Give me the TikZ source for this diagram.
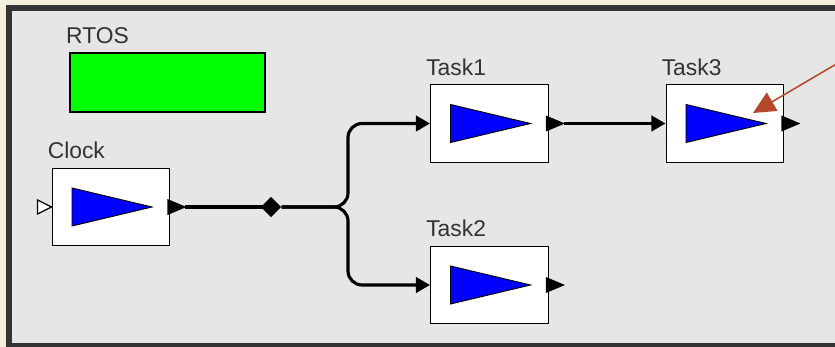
\documentclass[tikz,border=0pt]{standalone}
\usepackage{fontspec}
\setmainfont{Liberation Sans}
\usetikzlibrary{arrows.meta,shapes.geometric}

\definecolor{paper}{HTML}{F4F0DC}
\definecolor{panel}{HTML}{E6E6E6}
\definecolor{frame}{HTML}{333333}
\definecolor{ink}{HTML}{333333}
\definecolor{pointer}{HTML}{B4482B}

\begin{document}
\begin{tikzpicture}[x=0.03cm, y=-0.03cm,
        block/.style={rectangle, draw=black, line width=1.2pt, fill=white,
            minimum width=3.525cm, minimum height=2.325cm, inner sep=0pt},
        tag/.style={anchor=base west, text=ink, inner sep=0pt,
            font=\fontsize{19.5}{22}\selectfont},
        link/.style={line width=2.7pt},
        feed/.style={link, -{Triangle[length=12pt,width=13pt]}},
        ]
        \useasboundingbox (0,0) rectangle (835,347);
        \fill[paper] (0,0) rectangle (835,347);
        \draw[frame, fill=panel, line width=4.8pt] (9,8) rectangle (850,345.5);

        \node (rtos) at (167.5,82.5) [rectangle, draw=black, line width=1.2pt, fill=green,
            minimum width=5.85cm, minimum height=1.77cm] {};
        \node (rtos-tag) at (66,44) [tag] {RTOS};

        \node (clock) at (111,207) [block] {};
        \node (task1) at (489.5,123.5) [block] {};
        \node (task2) at (489.5,285) [block] {};
        \node (task3) at (725,123.5) [block] {};

        \node (clock-tag) at ([shift={(-4,-9)}]clock.north west) [tag] {Clock};
        \node (task1-tag) at ([shift={(-4,-9)}]task1.north west) [tag] {Task1};
        \node (task2-tag) at ([shift={(-4,-9)}]task2.north west) [tag] {Task2};
        \node (task3-tag) at ([shift={(-4,-9)}]task3.north west) [tag] {Task3};

        % gain symbol and output port on every block
        \foreach \b in {clock,task1,task2,task3} {
            \draw[fill=blue, line width=0.8pt] ([shift={(-39,-19)}]\b.center)
                -- ([shift={(41,0)}]\b.center) -- ([shift={(-39,19)}]\b.center) -- cycle;
            \fill ([shift={(-3,-8)}]\b.east) -- ([shift={(16,0)}]\b.east)
                -- ([shift={(-3,8)}]\b.east) -- cycle;
            \coordinate (\b-out) at ([shift={(15,0)}]\b.east);
        }
        % open input on the clock
        \draw[fill=white, line width=1.1pt] ([shift={(-14,-7)}]clock.west)
            -- (clock.west) -- ([shift={(-14,7)}]clock.west) -- cycle;

        \node (junction) at (271,207) [diamond, fill=black, inner sep=0pt,
            minimum width=0.62cm, minimum height=0.62cm] {};
        \coordinate (fork) at (348,207);

        \draw[link] (clock-out) -- (junction.center);
        \draw[feed, rounded corners=12pt] (junction) -- (fork) |- (task1.west);
        \draw[feed, rounded corners=12pt] (junction) -- (fork) |- (task2.west);
        \draw[feed] (task1-out) -- (task3.west);

        \coordinate (note) at (850,56);
        \draw[pointer, line width=1.3pt, -{Triangle[length=19pt,width=18pt]}]
            (note) -- ([shift={(28,-10.5)}]task3.center);
    \end{tikzpicture}
\end{document}
